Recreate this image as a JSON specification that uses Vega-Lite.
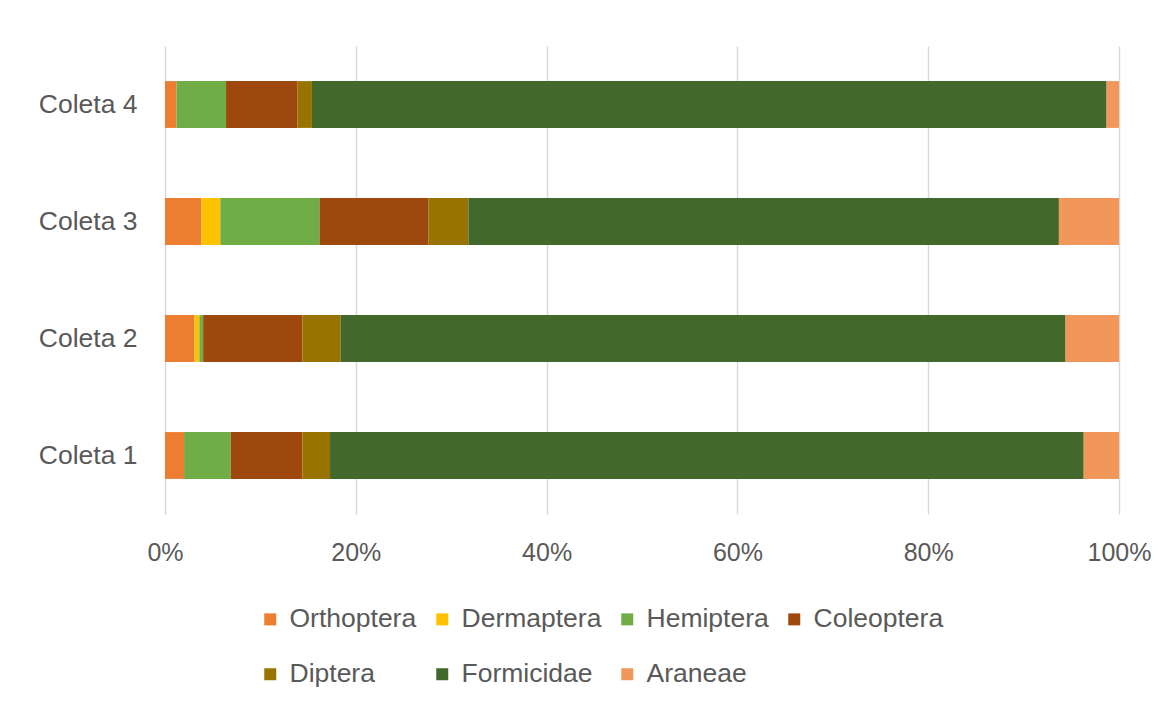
{
  "$schema": "https://vega.github.io/schema/vega-lite/v6.json",
  "width": 954,
  "height": 468,
  "autosize": {"type": "none"},
  "padding": {"left": 165, "top": 46, "right": 52, "bottom": 202},
  "background": "white",
  "config": {
    "view": {"stroke": null},
    "font": "Liberation Sans"
  },
  "data": {
    "values": [
      {"coleta": "Coleta 1", "taxon": "Orthoptera", "ord": 1, "value": 2.0},
      {"coleta": "Coleta 1", "taxon": "Dermaptera", "ord": 2, "value": 0.0},
      {"coleta": "Coleta 1", "taxon": "Hemiptera", "ord": 3, "value": 4.9},
      {"coleta": "Coleta 1", "taxon": "Coleoptera", "ord": 4, "value": 7.5},
      {"coleta": "Coleta 1", "taxon": "Diptera", "ord": 5, "value": 2.9},
      {"coleta": "Coleta 1", "taxon": "Formicidae", "ord": 6, "value": 79.0},
      {"coleta": "Coleta 1", "taxon": "Araneae", "ord": 7, "value": 3.7},
      {"coleta": "Coleta 2", "taxon": "Orthoptera", "ord": 1, "value": 3.1},
      {"coleta": "Coleta 2", "taxon": "Dermaptera", "ord": 2, "value": 0.5},
      {"coleta": "Coleta 2", "taxon": "Hemiptera", "ord": 3, "value": 0.4},
      {"coleta": "Coleta 2", "taxon": "Coleoptera", "ord": 4, "value": 10.4},
      {"coleta": "Coleta 2", "taxon": "Diptera", "ord": 5, "value": 4.0},
      {"coleta": "Coleta 2", "taxon": "Formicidae", "ord": 6, "value": 76.0},
      {"coleta": "Coleta 2", "taxon": "Araneae", "ord": 7, "value": 5.6},
      {"coleta": "Coleta 3", "taxon": "Orthoptera", "ord": 1, "value": 3.8},
      {"coleta": "Coleta 3", "taxon": "Dermaptera", "ord": 2, "value": 2.0},
      {"coleta": "Coleta 3", "taxon": "Hemiptera", "ord": 3, "value": 10.4},
      {"coleta": "Coleta 3", "taxon": "Coleoptera", "ord": 4, "value": 11.4},
      {"coleta": "Coleta 3", "taxon": "Diptera", "ord": 5, "value": 4.2},
      {"coleta": "Coleta 3", "taxon": "Formicidae", "ord": 6, "value": 61.9},
      {"coleta": "Coleta 3", "taxon": "Araneae", "ord": 7, "value": 6.3},
      {"coleta": "Coleta 4", "taxon": "Orthoptera", "ord": 1, "value": 1.2},
      {"coleta": "Coleta 4", "taxon": "Dermaptera", "ord": 2, "value": 0.0},
      {"coleta": "Coleta 4", "taxon": "Hemiptera", "ord": 3, "value": 5.2},
      {"coleta": "Coleta 4", "taxon": "Coleoptera", "ord": 4, "value": 7.5},
      {"coleta": "Coleta 4", "taxon": "Diptera", "ord": 5, "value": 1.5},
      {"coleta": "Coleta 4", "taxon": "Formicidae", "ord": 6, "value": 83.3},
      {"coleta": "Coleta 4", "taxon": "Araneae", "ord": 7, "value": 1.3}
    ]
  },
  "mark": {"type": "bar"},
  "encoding": {
    "y": {
      "field": "coleta",
      "type": "nominal",
      "sort": ["Coleta 4", "Coleta 3", "Coleta 2", "Coleta 1"],
      "scale": {"paddingInner": 0.6, "paddingOuter": 0.3},
      "axis": {
        "title": null,
        "domain": false,
        "ticks": false,
        "labelFontSize": 26.5,
        "labelColor": "#595959",
        "labelPadding": 28
      }
    },
    "x": {
      "field": "value",
      "type": "quantitative",
      "stack": "normalize",
      "scale": {"domain": [0, 1]},
      "axis": {
        "title": null,
        "format": ".0%",
        "values": [0, 0.2, 0.4, 0.6, 0.8, 1],
        "domain": false,
        "ticks": false,
        "grid": true,
        "gridColor": "#D9D9D9",
        "gridWidth": 1.5,
        "labelFontSize": 25,
        "labelColor": "#595959",
        "labelPadding": 26,
        "labelFlush": false
      }
    },
    "order": {"field": "ord", "type": "quantitative"},
    "color": {
      "field": "taxon",
      "type": "nominal",
      "sort": ["Orthoptera", "Dermaptera", "Hemiptera", "Coleoptera", "Diptera", "Formicidae", "Araneae"],
      "scale": {
        "domain": ["Orthoptera", "Dermaptera", "Hemiptera", "Coleoptera", "Diptera", "Formicidae", "Araneae"],
        "range": ["#ED7D31", "#FFC000", "#70AD47", "#9E480E", "#997300", "#43682B", "#F1975A"]
      },
      "legend": {
        "title": null,
        "orient": "none",
        "legendX": 92,
        "legendY": 560,
        "direction": "horizontal",
        "columns": 4,
        "columnPadding": 12,
        "rowPadding": 28,
        "symbolType": "square",
        "symbolSize": 144,
        "symbolStrokeWidth": 0,
        "labelFontSize": 26.5,
        "labelColor": "#595959",
        "labelOffset": 6
      }
    }
  }
}
